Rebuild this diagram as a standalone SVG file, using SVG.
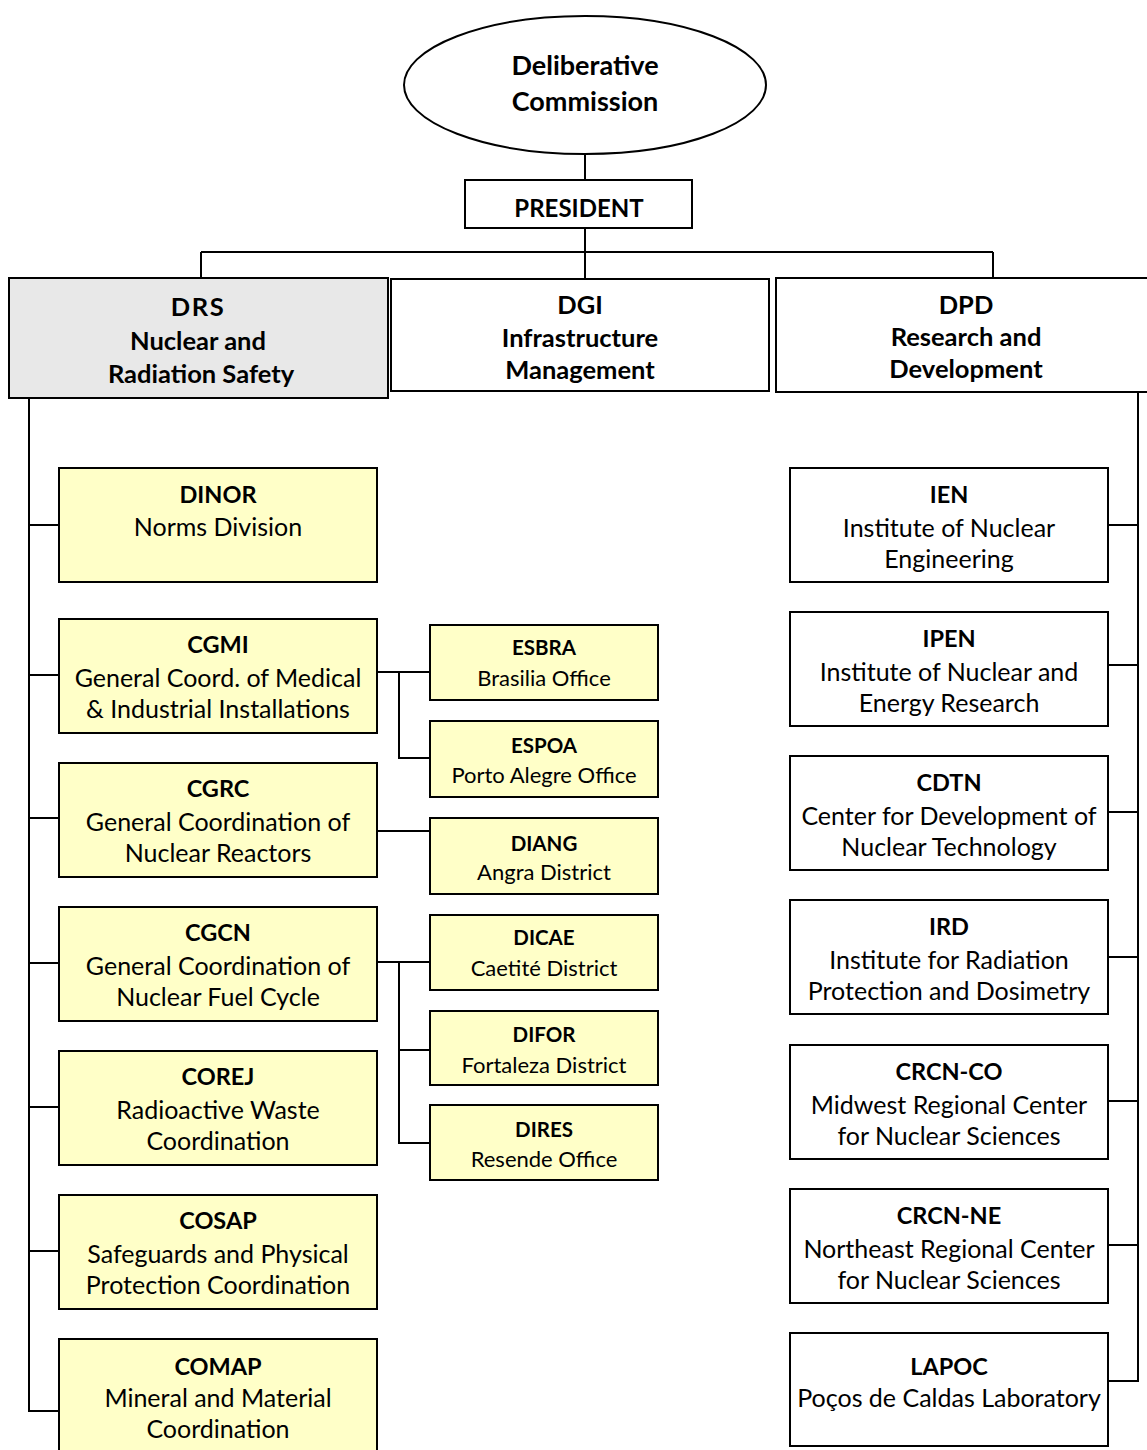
<svg xmlns="http://www.w3.org/2000/svg" width="1147" height="1450" viewBox="0 0 1147 1450">
<style>
  .bx{stroke:#000;stroke-width:2;fill:#fff}
  .y{fill:#ffffc8}
  .g{fill:#e8e8e8}
  .ln{stroke:#000;stroke-width:2;fill:none}
  text{font-family:Lato,"Open Sans","Liberation Sans",sans-serif;fill:#000;text-anchor:middle}
  .t{font-size:23.5px;font-weight:bold}
  .d{font-size:25px}
  .st{font-size:20.5px;font-weight:bold}
  .sd{font-size:22px}
  .hd{font-size:25.5px;font-weight:bold}
  .h{font-size:24px;font-weight:bold}
  .e{font-size:27px;font-weight:bold}
</style>
<rect width="1147" height="1450" fill="#fff"/>
<g id="connectors" class="ln">
  <path d="M585 154V180"/>
  <path d="M585 229V278"/>
  <path d="M201 252H993"/>
  <path d="M201 252V278"/>
  <path d="M993 252V278"/>
  <path d="M29 398V1411H59"/>
  <path d="M29 525H59M29 675H59M29 818H59M29 963H59M29 1107H59M29 1251H59"/>
  <path d="M1138 392V1381H1108"/>
  <path d="M1108 525H1138M1108 665H1138M1108 812H1138M1108 957H1138M1108 1101H1138M1108 1245H1138"/>
  <path d="M377 672H430M399 672V758H430"/>
  <path d="M377 831H430"/>
  <path d="M377 962H430M399 962V1143H430M399 1050H430"/>
</g>
<g id="commission">
  <ellipse class="bx" cx="585" cy="85" rx="181" ry="69"/>
  <text class="e" x="585" y="75">Deliberative</text>
  <text class="e" x="585" y="111">Commission</text>
</g>
<g id="president">
  <rect class="bx" x="465" y="180" width="227" height="48"/>
  <text class="h" x="579" y="217">PRESIDENT</text>
</g>
<g id="drs">
  <rect class="bx g" x="9" y="278" width="379" height="120"/>
  <text class="hd" x="198" y="316" style="letter-spacing:1.5px">DRS</text>
  <text class="hd" x="198" y="350">Nuclear and</text>
  <text class="hd" x="201" y="383">Radiation Safety</text>
</g>
<g id="dgi">
  <rect class="bx" x="391" y="279" width="378" height="112"/>
  <text class="hd" x="580" y="314">DGI</text>
  <text class="hd" x="580" y="347">Infrastructure</text>
  <text class="hd" x="580" y="379">Management</text>
</g>
<g id="dpd">
  <path class="bx" d="M1150 278H776V392H1150"/>
  <text class="hd" x="966" y="314">DPD</text>
  <text class="hd" x="966" y="346">Research and</text>
  <text class="hd" x="966" y="378">Development</text>
</g>
<g id="dinor">
  <rect class="bx y" x="59" y="468" width="318" height="114"/>
  <text class="t" x="218" y="503">DINOR</text>
  <text class="d" x="218" y="536">Norms Division</text>
</g>
<g id="cgmi">
  <rect class="bx y" x="59" y="619" width="318" height="114"/>
  <text class="t" x="218" y="653">CGMI</text>
  <text class="d" x="218" y="687">General Coord. of Medical</text>
  <text class="d" x="218" y="718">&amp; Industrial Installations</text>
</g>
<g id="cgrc">
  <rect class="bx y" x="59" y="763" width="318" height="114"/>
  <text class="t" x="218" y="797">CGRC</text>
  <text class="d" x="218" y="831">General Coordination of</text>
  <text class="d" x="218" y="862">Nuclear Reactors</text>
</g>
<g id="cgcn">
  <rect class="bx y" x="59" y="907" width="318" height="114"/>
  <text class="t" x="218" y="941">CGCN</text>
  <text class="d" x="218" y="975">General Coordination of</text>
  <text class="d" x="218" y="1006">Nuclear Fuel Cycle</text>
</g>
<g id="corej">
  <rect class="bx y" x="59" y="1051" width="318" height="114"/>
  <text class="t" x="218" y="1085">COREJ</text>
  <text class="d" x="218" y="1119">Radioactive Waste</text>
  <text class="d" x="218" y="1150">Coordination</text>
</g>
<g id="cosap">
  <rect class="bx y" x="59" y="1195" width="318" height="114"/>
  <text class="t" x="218" y="1229">COSAP</text>
  <text class="d" x="218" y="1263">Safeguards and Physical</text>
  <text class="d" x="218" y="1294">Protection Coordination</text>
</g>
<g id="comap">
  <rect class="bx y" x="59" y="1339" width="318" height="130"/>
  <text class="t" x="218" y="1375">COMAP</text>
  <text class="d" x="218" y="1407">Mineral and Material</text>
  <text class="d" x="218" y="1438">Coordination</text>
</g>
<g id="esbra">
  <rect class="bx y" x="430" y="625" width="228" height="75"/>
  <text class="st" x="544" y="655">ESBRA</text>
  <text class="sd" x="544" y="686">Brasilia Office</text>
</g>
<g id="espoa">
  <rect class="bx y" x="430" y="721" width="228" height="76"/>
  <text class="st" x="544" y="753">ESPOA</text>
  <text class="sd" x="544" y="783">Porto Alegre Office</text>
</g>
<g id="diang">
  <rect class="bx y" x="430" y="818" width="228" height="76"/>
  <text class="st" x="544" y="851">DIANG</text>
  <text class="sd" x="544" y="880">Angra District</text>
</g>
<g id="dicae">
  <rect class="bx y" x="430" y="915" width="228" height="75"/>
  <text class="st" x="544" y="945">DICAE</text>
  <text class="sd" x="544" y="976">Caetité District</text>
</g>
<g id="difor">
  <rect class="bx y" x="430" y="1011" width="228" height="74"/>
  <text class="st" x="544" y="1042">DIFOR</text>
  <text class="sd" x="544" y="1073">Fortaleza District</text>
</g>
<g id="dires">
  <rect class="bx y" x="430" y="1105" width="228" height="75"/>
  <text class="st" x="544" y="1137">DIRES</text>
  <text class="sd" x="544" y="1167">Resende Office</text>
</g>
<g id="ien">
  <rect class="bx" x="790" y="468" width="318" height="114"/>
  <text class="t" x="949" y="503">IEN</text>
  <text class="d" x="949" y="537">Institute of Nuclear</text>
  <text class="d" x="949" y="568">Engineering</text>
</g>
<g id="ipen">
  <rect class="bx" x="790" y="612" width="318" height="114"/>
  <text class="t" x="949" y="647">IPEN</text>
  <text class="d" x="949" y="681">Institute of Nuclear and</text>
  <text class="d" x="949" y="712">Energy Research</text>
</g>
<g id="cdtn">
  <rect class="bx" x="790" y="756" width="318" height="114"/>
  <text class="t" x="949" y="791">CDTN</text>
  <text class="d" x="949" y="825">Center for Development of</text>
  <text class="d" x="949" y="856">Nuclear Technology</text>
</g>
<g id="ird">
  <rect class="bx" x="790" y="900" width="318" height="114"/>
  <text class="t" x="949" y="935">IRD</text>
  <text class="d" x="949" y="969">Institute for Radiation</text>
  <text class="d" x="949" y="1000">Protection and Dosimetry</text>
</g>
<g id="crcn-co">
  <rect class="bx" x="790" y="1045" width="318" height="114"/>
  <text class="t" x="949" y="1080">CRCN-CO</text>
  <text class="d" x="949" y="1114">Midwest Regional Center</text>
  <text class="d" x="949" y="1145">for Nuclear Sciences</text>
</g>
<g id="crcn-ne">
  <rect class="bx" x="790" y="1189" width="318" height="114"/>
  <text class="t" x="949" y="1224">CRCN-NE</text>
  <text class="d" x="949" y="1258">Northeast Regional Center</text>
  <text class="d" x="949" y="1289">for Nuclear Sciences</text>
</g>
<g id="lapoc">
  <rect class="bx" x="790" y="1333" width="318" height="113"/>
  <text class="t" x="949" y="1375">LAPOC</text>
  <text class="d" x="949" y="1407">Poços de Caldas Laboratory</text>
</g>
</svg>
